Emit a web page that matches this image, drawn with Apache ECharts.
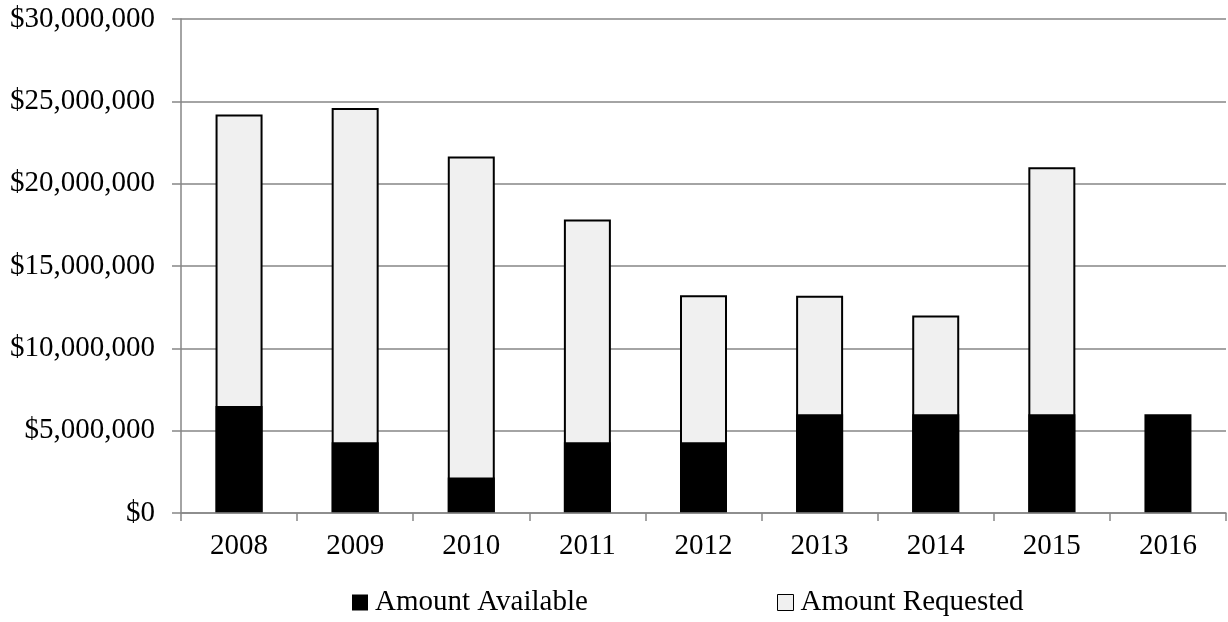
<!DOCTYPE html>
<html>
<head>
<meta charset="utf-8">
<script src="https://cdn.jsdelivr.net/npm/echarts@6/dist/echarts.min.js"></script>
<style>
html,body{margin:0;padding:0;background:#fff;}
#c{width:1228px;height:622px;}
</style>
</head>
<body>
<div id="c"></div>
<script>
var years = ['2008','2009','2010','2011','2012','2013','2014','2015','2016'];
var amountAvailable = [6500000, 4300000, 2150000, 4300000, 4300000, 6000000, 6000000, 6000000, 6000000];
var amountRequested = [24200000, 24600000, 21650000, 17830000, 13230000, 13200000, 12000000, 21000000, null];
var yTicks = [0, 5000000, 10000000, 15000000, 20000000, 25000000, 30000000];

var font = 'Liberation Serif, "Times New Roman", serif';
var axisGray = '#868686';

function fmt(v){
  return '$' + String(v).replace(/\B(?=(\d{3})+(?!\d))/g, ',');
}

var chart = echarts.init(document.getElementById('c'), null, {renderer:'canvas'});
chart.setOption({
  animation: false,
  backgroundColor: '#fff',
  grid: {left: 181, right: 2, top: 19, bottom: 109, containLabel: false},
  legend: [
    {data: [{name: 'Amount Available', itemStyle: {color: '#000', borderColor: '#000', borderWidth: 0}}],
     left: 347, top: 583, itemWidth: 16, itemHeight: 16, itemGap: 4,
     icon: 'rect', textStyle: {fontFamily: font, fontSize: 29, color: '#000', padding: [0,0,0,2]}},
    {data: [{name: 'Amount Requested', itemStyle: {color: '#f0f0f0', borderColor: '#000', borderWidth: 1}}],
     left: 772, top: 583, itemWidth: 16, itemHeight: 16, itemGap: 4,
     icon: 'rect', textStyle: {fontFamily: font, fontSize: 29, color: '#000', padding: [0,0,0,2]}}
  ],
  xAxis: {
    type: 'category',
    data: years,
    boundaryGap: true,
    axisLine: {show: true, lineStyle: {color: axisGray, width: 1.5}},
    axisTick: {show: true, length: 8, lineStyle: {color: axisGray, width: 1.5}},
    axisLabel: {fontFamily: font, fontSize: 29, color: '#000', margin: 19},
    z: 10
  },
  yAxis: {
    type: 'value',
    min: yTicks[0],
    max: yTicks[yTicks.length - 1],
    interval: yTicks[1] - yTicks[0],
    axisLine: {show: true, lineStyle: {color: axisGray, width: 1.5}},
    axisTick: {show: true, length: 9, lineStyle: {color: axisGray, width: 1.5}},
    splitLine: {show: true, lineStyle: {color: axisGray, width: 1.5}},
    axisLabel: {fontFamily: font, fontSize: 29, color: '#000', margin: 26, formatter: fmt}
  },
  series: [
    {
      name: 'Amount Available',
      type: 'bar',
      data: amountAvailable,
      barWidth: 47,
      z: 4,
      itemStyle: {color: '#000', borderColor: '#000', borderWidth: 0}
    },
    {
      name: 'Amount Requested',
      type: 'bar',
      data: amountRequested,
      barWidth: 47,
      barGap: '-100%',
      z: 2,
      itemStyle: {color: '#f0f0f0', borderColor: '#000', borderWidth: 2}
    }
  ]
});
</script>
</body>
</html>
